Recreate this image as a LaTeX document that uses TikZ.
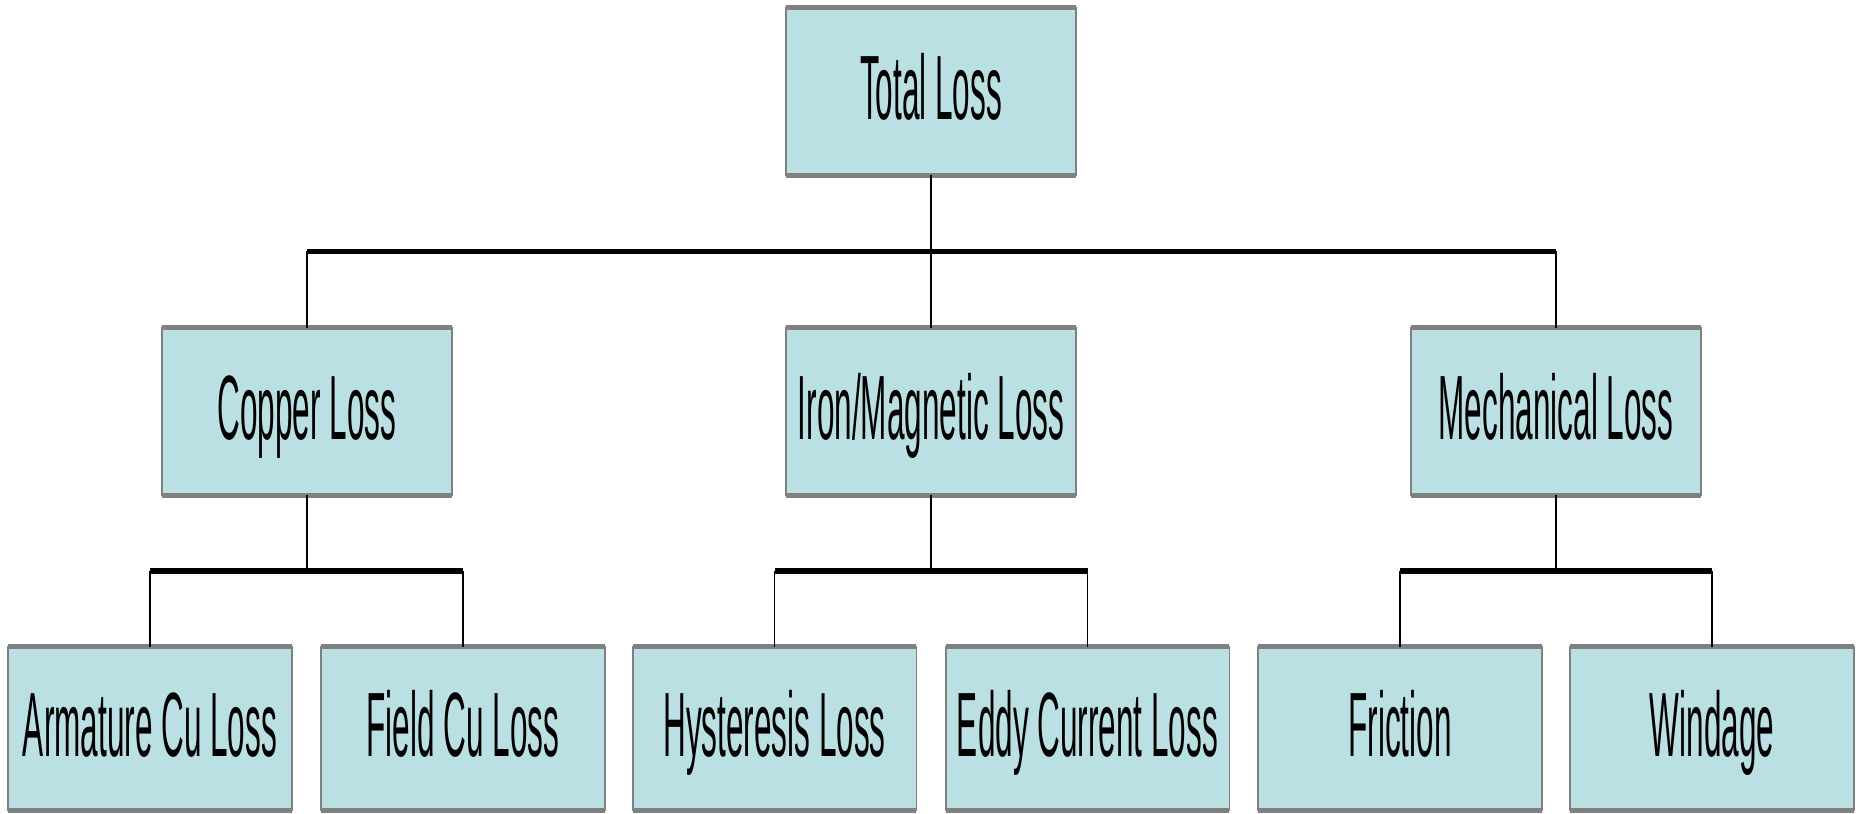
\documentclass[tikz,border=0pt]{standalone}
\usepackage{fontspec}
\setmainfont[FakeStretch=0.345]{Liberation Sans}
\usepackage{tikz}
\definecolor{boxfill}{RGB}{187,224,227}
\definecolor{boxline}{RGB}{128,128,128}

\tikzset{
  lossbox/.style={draw=boxline,line width=1.1pt,fill=boxfill,inner sep=0pt,outer sep=0pt,
    minimum width=5.8cm,minimum height=3.36cm,text height=42pt,text depth=10pt,
    font=\fontsize{52}{60}\selectfont},
  leafbox/.style={lossbox,minimum width=5.68cm,minimum height=3.28cm},
  boxbar/.style={draw=boxline,line width=2.85pt},
  link/.style={draw=black,line width=1.1pt},
  bus/.style={draw=black,line width=3.4pt}
}

\begin{document}
\begin{tikzpicture}[x=0.02cm,y=0.02cm]
  \useasboundingbox (0,0) rectangle (1860,-814);
  % levels
  \node[lossbox] (total) at (931,-91.5) {Total Loss};
  \node[lossbox] (copper) at (307,-411.5) {Copper Loss};
  \node[lossbox] (iron) at (931,-411.5) {Iron/Magnetic Loss};
  \node[lossbox] (mech) at (1556,-411.5) {Mechanical Loss};
  \node[leafbox] (arm) at (150,-728.5) {Armature Cu Loss};
  \node[leafbox] (field) at (463,-728.5) {Field Cu Loss};
  \node[leafbox] (hyst) at (774.5,-728.5) {Hysteresis Loss};
  \node[leafbox] (eddy) at (1087.5,-728.5) {Eddy Current Loss};
  \node[leafbox] (fric) at (1400,-728.5) {Friction};
  \node[leafbox] (wind) at (1712,-728.5) {Windage};
  \foreach \n in {total,copper,iron,mech,arm,field,hyst,eddy,fric,wind}
    \draw[boxbar] (\n.north west) -- (\n.north east) (\n.south west) -- (\n.south east);
  % connectors
  \coordinate (b0) at (0,-251.5);
  \coordinate (b1) at (0,-571);
  \draw[link] (total) -- (iron);
  \draw[bus] (copper |- b0) -- (mech |- b0);
  \draw[link] (copper |- b0) -- (copper);
  \draw[link] (mech |- b0) -- (mech);
  \foreach \p/\l/\r in {copper/arm/field,iron/hyst/eddy,mech/fric/wind} {
    \draw[link] (\p) -- (\p |- b1);
    \draw[bus] (\l |- b1) -- (\r |- b1);
    \draw[link] (\l |- b1) -- (\l);
    \draw[link] (\r |- b1) -- (\r);
  }
\end{tikzpicture}
\end{document}
